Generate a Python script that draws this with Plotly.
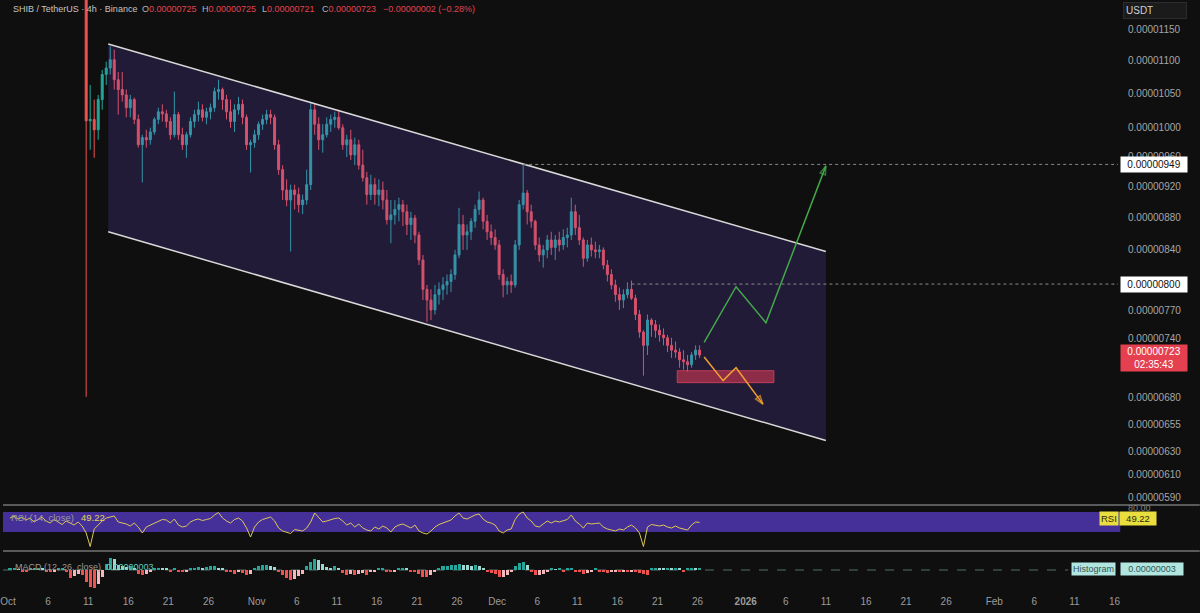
import numpy as np
import pandas as pd
import plotly.graph_objects as go

UNIT = 1e-8  # prices stored in units of 0.00000001 USDT

# ---------------- price candles (12h buckets) ----------------
candle_first_centre = "2025-10-10 18:00"
first_open = 1235
closes = [1010, 1012, 997, 1041, 1079, 1089, 1102, 1071, 1056, 1048,
          1029, 1041, 1012, 976, 986, 983, 994, 1012, 1023, 1020,
          1009, 990, 1019, 990, 976, 990, 1009, 1019, 1026, 1015,
          1023, 1029, 1053, 1056, 1041, 1023, 1009, 1026, 1034, 1015,
          976, 979, 990, 1005, 1012, 1019, 1015, 976, 942, 915,
          902, 915, 909, 896, 902, 922, 1026, 1005, 983, 990,
          1005, 1012, 1015, 1000, 976, 983, 962, 976, 948, 931,
          909, 922, 909, 915, 902, 877, 883, 890, 896, 887,
          871, 879, 858, 828, 794, 782, 771, 788, 794, 799,
          803, 811, 834, 871, 858, 862, 875, 890, 902, 875,
          862, 855, 846, 811, 799, 803, 799, 846, 896, 911,
          887, 875, 846, 834, 840, 852, 843, 852, 846, 855,
          858, 887, 867, 852, 830, 846, 840, 838, 840, 822,
          811, 799, 788, 782, 788, 794, 784, 766, 747, 733,
          760, 755, 749, 744, 741, 733, 728, 726, 718, 716,
          713, 723, 728, 723]
highs = [1255, 1063, 1041, 1048, 1086, 1099, 1123, 1118, 1083, 1083,
         1056, 1048, 1044, 1019, 990, 997, 1000, 1015, 1029, 1034,
         1026, 1015, 1053, 1023, 1000, 994, 1015, 1026, 1038, 1034,
         1029, 1035, 1059, 1071, 1059, 1048, 1041, 1034, 1045, 1041,
         1019, 983, 997, 1009, 1019, 1026, 1026, 1019, 983, 948,
         929, 922, 922, 918, 909, 942, 1037, 1034, 1015, 1005,
         1015, 1019, 1023, 1026, 1005, 990, 997, 986, 983, 969,
         939, 935, 931, 929, 926, 915, 902, 902, 905, 902,
         896, 887, 883, 862, 834, 799, 794, 799, 802, 808,
         811, 817, 840, 892, 883, 871, 879, 896, 913, 905,
         883, 871, 865, 852, 817, 808, 811, 852, 902, 949,
         915, 896, 877, 855, 846, 858, 862, 858, 862, 865,
         867, 905, 896, 883, 855, 852, 855, 850, 846, 843,
         828, 817, 805, 796, 794, 802, 804, 788, 771, 749,
         766, 762, 760, 755, 751, 744, 741, 737, 730, 728,
         723, 726, 733, 733]
lows = [681, 969, 958, 983, 1026, 1063, 1079, 1056, 1019, 1038,
        1015, 1015, 1005, 972, 925, 972, 976, 990, 1005, 1009,
        1000, 983, 986, 983, 969, 958, 986, 1000, 1009, 1009,
        1005, 1012, 1023, 1041, 1026, 1012, 1000, 994, 1019, 1005,
        969, 938, 972, 983, 997, 1005, 1005, 969, 935, 902,
        894, 838, 890, 886, 884, 896, 915, 990, 969, 965,
        986, 994, 1000, 997, 969, 959, 955, 948, 942, 926,
        896, 902, 896, 894, 890, 871, 848, 871, 875, 869,
        858, 852, 848, 822, 782, 758, 760, 766, 777, 782,
        788, 791, 805, 830, 840, 840, 852, 867, 883, 865,
        852, 846, 840, 805, 785, 788, 790, 796, 840, 890,
        871, 867, 840, 826, 819, 830, 834, 828, 838, 840,
        843, 852, 858, 846, 820, 826, 832, 830, 830, 817,
        803, 794, 780, 771, 773, 784, 782, 760, 741, 702,
        723, 742, 741, 737, 733, 726, 720, 720, 710, 708,
        706, 710, 718, 720]
opens = [first_open] + closes[:-1]

# ---------------- indicators (12h samples) ----------------
ind_first_centre = "2025-10-01 06:00"
rsi = [58, 62, 56, 60, 54, 58, 50, 55, 60, 52, 48, 55, 50, 45, 52, 48, 44, 50, 42,
       28, 1, 36, 45, 52, 58, 60, 62, 50, 48, 46, 42, 48,
       40, 28, 40, 44, 48, 52, 55, 54, 48, 56, 44, 40, 42, 50, 54, 56, 53, 55, 57, 64, 69,
       58, 52, 48, 55, 58, 52, 38, 20, 40, 50, 55, 58, 60, 52, 38, 32, 30, 27, 35, 34, 32, 38, 50,
       68, 58, 50, 52, 55, 57, 58, 52, 44, 48, 40, 46, 38, 34, 32, 40, 36, 42, 38, 30, 40, 44, 46, 42,
       38, 44, 32, 28, 26, 32, 40, 45, 48, 50, 54, 62, 68, 58, 56, 60, 64, 66, 56, 50, 48, 44, 32, 28, 34, 36,
       55, 66, 70, 58, 52, 42, 40, 46, 52, 48, 52, 50, 53, 55, 64, 52, 46, 38, 48, 46, 47, 48, 40, 36, 34,
       32, 36, 34, 40, 44, 38, 28, 1, 40, 45, 44, 42, 44, 40, 38, 42, 38, 36, 34, 44, 50, 49.22]
macd_hist = [2, 3, 1, -2, -3, 2,
             3, 4, 2, -2, -4, -3, 2, 3, -3,
             -13, -10, -6,
             -8, -20, -28, -30, -24, -12,
             10, 20, 18, 8,
             6, 5, 7, 3,
             -6, -9, -6,
             -2, 2, 4, 3, 2, -2,
             3, -3, -4, -2, 3, 4, 5,
             4, 5, 6, 7, 4, 2, -2,
             -4, -6, -3, -5, -8, -7,
             4, 7, 8, 8, 7, 5, -3,
             -8, -14, -17, -15, -10, -6,
             6, 14, 18, 16, 10,
             5, 4, 6, 2,
             -5, -8, -6, -8, -7, -5, -8,
             -3, -2, 2, 3, -2, -4, -3, 2, 3, 2, -2, -3,
             -6, -11, -12, -9, -4,
             4, 6, 7, 8, 9, 10, 9, 8, 7, 8, 6,
             2, -3, -5,
             -7, -12, -12, -9, -4,
             6, 12, 13, 9,
             -4, -8, -8, -6, -3,
             2, 1, 2, -2, 2, 4,
             -3, -4, -6, -5, -2,
             2, -2, -4, -5, -4,
             -3, -4, -2, -3, -2, -3, -5, -6,
             -8, 3, 4, 3, 2, 3,
             2, 3, 2, -2, 2, 3, 2, 3]

# ---------------- drawings ----------------
channel_dates = ["2025-10-13 12:00", "2026-01-11 00:00"]
channel_upper = [1127, 838]
channel_lower = [862, 640]
level_949 = {"start": "2025-12-04 06:00", "value": 949}
level_800 = {"start": "2025-12-17 18:00", "value": 800}
green_path_dates = ["2025-12-26 19:40", "2025-12-30 19:10", "2026-01-03 12:40", "2026-01-11 00:00"]
green_path_vals = [736, 797, 757, 947]
orange_path_dates = ["2025-12-26 19:40", "2025-12-29 04:20", "2025-12-30 19:10", "2026-01-03 03:35"]
orange_path_vals = [721, 697, 710, 674]
zone_dates = ["2025-12-23 11:00", "2026-01-04 12:30"]
zone_vals = [695, 707]

# ---------------- axes ----------------
x_range = ["2025-09-30 09:04", "2026-02-16 10:19"]
price_ticks = [1150, 1100, 1050, 1000, 960, 920, 880, 840, 800, 770, 740, 680, 655, 630, 610, 590]
time_tick_dates = ["2025-10-01", "2025-10-06", "2025-10-11", "2025-10-16", "2025-10-21", "2025-10-26",
                   "2025-11-01", "2025-11-06", "2025-11-11", "2025-11-16", "2025-11-21", "2025-11-26",
                   "2025-12-01", "2025-12-06", "2025-12-11", "2025-12-16", "2025-12-21", "2025-12-26",
                   "2026-01-01", "2026-01-06", "2026-01-11", "2026-01-16", "2026-01-21", "2026-01-26",
                   "2026-02-01", "2026-02-06", "2026-02-11", "2026-02-16"]
time_tick_labels = ["Oct", "6", "11", "16", "21", "26", "Nov", "6", "11", "16", "21", "26",
                    "Dec", "6", "11", "16", "21", "26", "<b>2026</b>", "6", "11", "16", "21", "26",
                    "Feb", "6", "11", "16"]

# ---------------- build ----------------
W, H = 1200, 613
PLOT_W, PLOT_H = 1118, 590
BG = "#0f0f0f"
FONT = "Liberation Sans"

def py(px):  # pixel row -> paper fraction
    return (PLOT_H - px) / PLOT_H

def pxx(px):  # pixel column -> paper fraction
    return px / PLOT_W

candle_x = pd.date_range(candle_first_centre, periods=len(closes), freq="12h")
ind_x = pd.date_range(ind_first_centre, periods=len(rsi), freq="12h")
u = lambda a: [v * UNIT for v in a]

fig = go.Figure()

fig.add_trace(go.Candlestick(
    x=candle_x, open=u(opens), high=u(highs), low=u(lows), close=u(closes),
    increasing=dict(line=dict(color="#26a69a", width=1), fillcolor="#26a69a"),
    decreasing=dict(line=dict(color="#ef5350", width=1), fillcolor="#ef5350"),
    whiskerwidth=0, hoverinfo="skip", showlegend=False, xaxis="x", yaxis="y"))

# channel fill + lines
fig.add_trace(go.Scatter(
    x=[channel_dates[0], channel_dates[1], channel_dates[1], channel_dates[0], channel_dates[0]],
    y=u([channel_upper[0], channel_upper[1], channel_lower[1], channel_lower[0], channel_upper[0]]),
    fill="toself", fillcolor="rgba(112,74,222,0.20)", line=dict(width=0),
    mode="lines", hoverinfo="skip", showlegend=False))
for vals in (channel_upper, channel_lower):
    fig.add_trace(go.Scatter(x=channel_dates, y=u(vals), mode="lines",
                             line=dict(color="#d9d9d9", width=1.5),
                             hoverinfo="skip", showlegend=False))

# horizontal levels
for lv in (level_949, level_800):
    fig.add_trace(go.Scatter(x=[lv["start"], x_range[1]], y=u([lv["value"], lv["value"]]),
                             mode="lines", line=dict(color="#8a8a8a", width=1, dash="dot"),
                             hoverinfo="skip", showlegend=False))

# red zone
fig.add_trace(go.Scatter(
    x=[zone_dates[0], zone_dates[1], zone_dates[1], zone_dates[0], zone_dates[0]],
    y=u([zone_vals[0], zone_vals[0], zone_vals[1], zone_vals[1], zone_vals[0]]),
    fill="toself", fillcolor="rgba(228,58,84,0.55)", line=dict(color="rgba(235,70,95,0.7)", width=1),
    mode="lines", hoverinfo="skip", showlegend=False))

# projection arrows
for dates, vals, col in ((green_path_dates, green_path_vals, "#43a84a"),
                         (orange_path_dates, orange_path_vals, "#f0a030")):
    sizes = [0] * (len(vals) - 1) + [9]
    fig.add_trace(go.Scatter(
        x=dates, y=u(vals), mode="lines+markers",
        line=dict(color=col, width=1.5),
        marker=dict(symbol="arrow-open", size=sizes, angleref="previous",
                    color=col, line=dict(color=col, width=1.5)),
        hoverinfo="skip", showlegend=False))

# RSI
fig.add_trace(go.Scatter(x=ind_x, y=rsi, mode="lines", line=dict(color="#dcc858", width=1),
                         xaxis="x", yaxis="y2", hoverinfo="skip", showlegend=False))

# MACD histogram
hist_colors = []
prev = 0
for v in macd_hist:
    if v >= 0:
        hist_colors.append("#26a69a" if v >= prev else "#9fd8d1")
    else:
        hist_colors.append("#ef5350" if v < prev else "#f2b8bd")
    prev = v
fig.add_trace(go.Bar(x=ind_x, y=macd_hist, marker=dict(color=hist_colors, line=dict(width=0)),
                     width=12 * 3600 * 1000 * 0.75, xaxis="x", yaxis="y3",
                     hoverinfo="skip", showlegend=False))

shapes = [
    # RSI band 30-70
    dict(type="rect", xref="paper", x0=0, x1=1.002, yref="y2", y0=30, y1=70,
         fillcolor="#452f98", line=dict(width=0), layer="below"),
    # MACD zero line
    dict(type="line", xref="paper", x0=0, x1=pxx(1068), yref="y3", y0=0, y1=0,
         line=dict(color="#50706c", width=1, dash="dash"), layer="below"),
]
for ypx in (505, 551):
    shapes.append(dict(type="line", xref="paper", x0=0, x1=W / PLOT_W, yref="paper",
                       y0=py(ypx), y1=py(ypx), line=dict(color="#5a5a5a", width=2)))

ann = []
def label(x, y, text, size=9, color="#b0b0b0", xanchor="left", yanchor="middle", **kw):
    d = dict(x=x, y=y, xref=kw.pop("xref", "paper"), yref=kw.pop("yref", "paper"), text=text,
             showarrow=False, xanchor=xanchor, yanchor=yanchor,
             font=dict(size=size, color=color, family=FONT))
    d.update(kw)
    ann.append(d)

# header
hy = py(8.5)
label(pxx(8), hy, "SHIB / TetherUS · 4h · Binance", color="#c4c4c4")
for xpx, letter, val in ((137, "O", "0.00000725"), (198, "H", "0.00000725"),
                         (258, "L", "0.00000721"), (318, "C", "0.00000723")):
    label(pxx(xpx), hy, f'<span style="color:#b4b4b4">{letter}</span>{val}', color="#e0424f")
label(pxx(379), hy, "−0.00000002 (−0.28%)", color="#e0424f")

# USDT box
label(pxx(1123), py(10.5), "USDT", size=10, color="#d0d0d0", bgcolor="#1b1b1b",
      bordercolor="#2c2c2c", borderwidth=1, borderpad=2, width=58, align="left")

# price labels on the axis
for lv in (level_949, level_800):
    label(pxx(1120), np.log10(lv["value"] * UNIT), f"{lv['value'] * UNIT:.8f}", size=10,
          color="#111111", yref="y", bgcolor="#ffffff", borderpad=2, width=62)
label(pxx(1120), np.log10(closes[-1] * UNIT), f"{closes[-1] * UNIT:.8f}<br>02:35:43", size=10,
      color="#ffffff", yref="y", bgcolor="#e5404f", borderpad=1, width=64, yshift=-3.5)

# RSI labels
label(pxx(6), 60, "RSI (14, close)", size=9.5, color="#9a9a9a", yref="y2")
label(pxx(76), 60, f"{rsi[-1]:.2f}", size=9.5, color="#e3d35a", yref="y2")
label(pxx(1126), 78.5, "80.00", size=9, color="#808080", yref="y2")
label(pxx(1099), 58, "RSI", size=9.5, color="#2b2b10", yref="y2", bgcolor="#e9de3e", borderpad=1)
label(pxx(1119), 58, f"{rsi[-1]:.2f}", size=9.5, color="#2b2b10", yref="y2", bgcolor="#e9de3e",
      borderpad=1, width=34)

# MACD labels
label(pxx(10), 5, "MACD (12, 26, close)", size=9, color="#9a9a9a", yref="y3")
label(pxx(101), 5, f"{macd_hist[-1] * UNIT:.8f}", size=9, color="#5fc9bc", yref="y3")
label(pxx(1071), 1.7, "Histogram", size=9, color="#335553", yref="y3", bgcolor="#b0e6df", borderpad=1)
label(pxx(1120), 1.7, f"{macd_hist[-1] * UNIT:.8f}", size=9, color="#335553", yref="y3",
      bgcolor="#b0e6df", borderpad=1, width=60)

fig.update_layout(
    width=W, height=H, margin=dict(l=0, r=W - PLOT_W, t=0, b=H - PLOT_H),
    paper_bgcolor=BG, plot_bgcolor=BG, showlegend=False,
    font=dict(family=FONT, color="#a0a0a0"),
    bargap=0,
    xaxis=dict(type="date", range=x_range, anchor="y3", domain=[0, 1],
               rangeslider=dict(visible=False), showgrid=False, zeroline=False, showline=False,
               tickvals=time_tick_dates, ticktext=time_tick_labels, ticks="",
               tickfont=dict(size=10, color="#9c9c9c", family=FONT),
               ticklabeloverflow="allow", ticklabelstandoff=4),
    yaxis=dict(type="log", domain=[py(503), 1],
               range=[np.log10(585.3 * UNIT), np.log10(1200.0 * UNIT)],
               side="right", anchor="x", showgrid=False, zeroline=False, showline=False,
               tickvals=u(price_ticks), ticktext=[f"{v * UNIT:.8f}" for v in price_ticks],
               ticks="", ticklabelstandoff=9,
               tickfont=dict(size=10, color="#a6a6a6", family=FONT)),
    yaxis2=dict(domain=[py(550), py(507)], range=[-6, 80], anchor="x",
                showgrid=False, zeroline=False, showticklabels=False, showline=False),
    yaxis3=dict(domain=[0, py(553)], range=[-33.3, 28.3], anchor="x",
                showgrid=False, zeroline=False, showticklabels=False, showline=False),
    shapes=shapes, annotations=ann,
)

fig.write_html("out.html")
